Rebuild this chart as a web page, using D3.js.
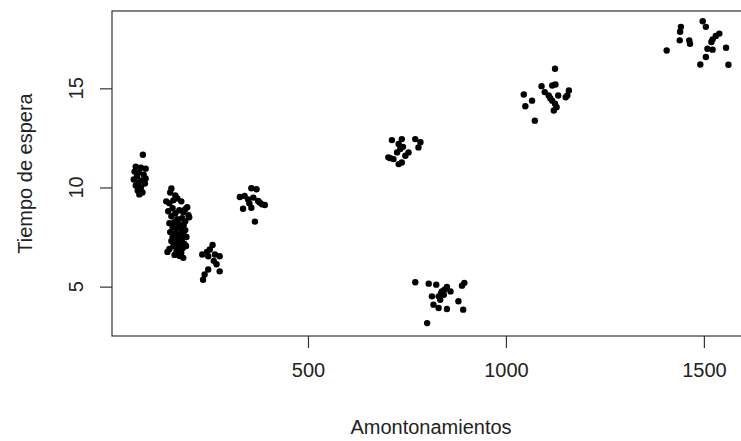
<!DOCTYPE html>
<html>
<head>
<meta charset="utf-8">
<script src="https://cdn.jsdelivr.net/npm/d3@7"></script>
<style>
  body { margin: 0; background: #fff; }
  text { font-family: "Liberation Sans", Arial, sans-serif; fill: #222; }
</style>
</head>
<body>
<svg id="chart" width="741" height="441"></svg>
<script>
// amontonamientos (x) and tiempo de espera (y) per group
var amontonamientos = [
  83,65,78,90,62,73,85,68,90,60,80,72,88,65,78,70,82,74,
  155,152,165,142,150,160,170,180,195,190,198,200,158,147,165,175,185,155,170,182,190,150,
  162,175,186,158,168,180,190,152,165,176,186,158,170,182,193,155,165,178,188,160,172,184,
  192,150,145,168,180,176,185,163,
  259,252,233,248,265,277,269,277,248,239,235,245,262,
  357,370,328,340,349,362,374,391,336,357,366,378,352,384,
  712,737,771,784,779,729,733,725,754,746,703,716,729,737,740,708,
  771,805,824,851,860,889,895,838,830,843,813,834,817,830,851,880,892,801,845,836,
  1124,1090,1117,1125,1098,1108,1132,1159,1155,1151,1117,1124,1121,1045,1066,1049,1073,1112,1128,
  1497,1505,1442,1440,1439,1463,1465,1406,1539,1530,1522,1519,1509,1522,1505,1491,1556,1562
];
var tiempoEspera = [
  11.65,11.05,11.0,10.95,10.8,10.75,10.65,10.55,10.45,10.4,10.35,10.25,10.2,10.1,10.0,9.85,9.75,9.65,
  9.95,9.75,9.6,9.3,9.2,9.35,9.45,9.3,9.0,8.9,8.6,8.5,8.95,8.8,8.7,8.85,8.75,8.55,8.4,8.45,8.3,8.2,
  8.25,8.15,8.1,8.0,7.95,7.9,7.85,7.75,7.7,7.65,7.6,7.5,7.45,7.4,7.5,7.3,7.2,7.25,7.15,7.05,7.0,6.95,
  7.05,6.9,6.75,6.8,6.7,6.55,6.45,6.6,
  7.1,6.87,6.62,6.53,6.62,6.53,6.13,5.77,5.86,5.61,5.35,6.75,6.3,
  9.96,9.91,9.52,9.57,9.4,9.49,9.32,9.12,8.93,8.98,8.28,9.24,9.2,9.15,
  12.39,12.44,12.44,12.28,12.02,12.19,11.94,11.77,11.77,11.6,11.52,11.43,11.18,11.26,12.05,11.48,
  5.22,5.15,5.1,4.98,4.76,5.05,5.19,4.76,4.51,4.59,4.51,4.34,4.09,3.92,3.87,4.26,3.84,3.16,4.85,4.65,
  15.99,15.11,15.14,15.19,14.81,14.64,14.64,14.89,14.64,14.55,14.38,14.22,13.88,14.69,14.38,14.1,13.37,14.5,14.05,
  18.38,18.1,18.1,17.85,17.42,17.42,17.25,16.91,17.76,17.64,17.47,17.34,17.0,16.95,16.58,16.2,17.05,16.19
];
var xTicks = [500, 1000, 1500];
var yTicks = [5, 10, 15];

var points = amontonamientos.map(function(d, i) { return {x: d, y: tiempoEspera[i]}; });

var svg = d3.select("#chart");
var plotLeft = 112, plotTop = 11, plotRight = 751, plotBottom = 336;

var xScale = d3.scaleLinear().domain([5, 1619]).range([plotLeft, plotRight]);
var yScale = d3.scaleLinear().domain([2.51, 18.9]).range([plotBottom, plotTop]);

// points
svg.append("g")
    .selectAll("circle")
    .data(points)
    .enter()
    .append("circle")
    .attr("cx", function(d) { return xScale(d.x); })
    .attr("cy", function(d) { return yScale(d.y); })
    .attr("r", 3.2)
    .attr("fill", "#000");

// box
svg.append("rect")
    .attr("x", plotLeft).attr("y", plotTop)
    .attr("width", plotRight - plotLeft).attr("height", plotBottom - plotTop)
    .attr("fill", "none").attr("stroke", "#333").attr("stroke-width", 1.2);

// x axis
var xAxis = svg.append("g")
    .attr("transform", "translate(0," + plotBottom + ")")
    .call(d3.axisBottom(xScale).tickValues(xTicks).tickSize(12).tickPadding(15).tickFormat(d3.format("d")));
xAxis.select(".domain").remove();
xAxis.selectAll("line").attr("stroke", "#333").attr("stroke-width", 1.2);
xAxis.selectAll("text").attr("font-size", 20).attr("fill", "#222")
    .attr("font-family", "Liberation Sans, Arial, sans-serif");

// y axis, labels turned like R does
var yAxis = svg.append("g")
    .attr("transform", "translate(" + plotLeft + ",0)")
    .call(d3.axisLeft(yScale).tickValues(yTicks).tickSize(12).tickFormat(""));
yAxis.select(".domain").remove();
yAxis.selectAll("line").attr("stroke", "#333").attr("stroke-width", 1.2);

svg.append("g")
    .selectAll("text")
    .data(yTicks)
    .enter()
    .append("text")
    .attr("transform", function(d) { return "translate(83," + yScale(d) + ") rotate(-90)"; })
    .attr("text-anchor", "middle")
    .attr("font-size", 20)
    .text(function(d) { return d; });

// axis titles
svg.append("text")
    .attr("x", 431).attr("y", 434)
    .attr("text-anchor", "middle")
    .attr("font-size", 20)
    .text("Amontonamientos");

svg.append("text")
    .attr("transform", "translate(32," + (plotTop + plotBottom) / 2 + ") rotate(-90)")
    .attr("text-anchor", "middle")
    .attr("font-size", 20)
    .text("Tiempo de espera");
</script>
</body>
</html>
